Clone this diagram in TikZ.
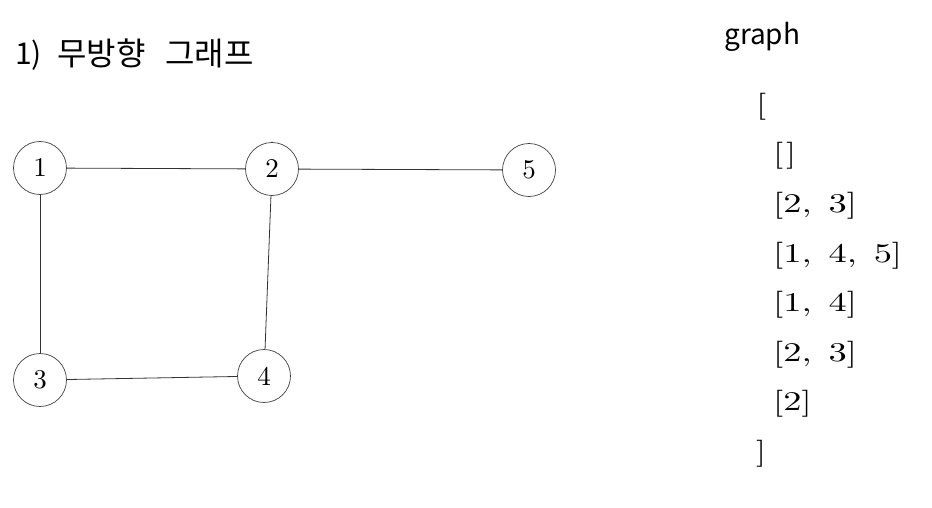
\documentclass[tikz,border=0pt]{standalone}
\usepackage{fontspec}
\usepackage{graphicx}
\newfontfamily\kfont{Noto Sans CJK KR}
\newfontfamily\numfont{lmroman10-regular.otf}
\newcommand{\gap}{\hspace{12.5pt}}
\newcommand{\wide}[1]{\scalebox{1.35}[1]{#1}}
\tikzset{
  vert/.style={circle, draw=black!75, line width=0.7pt, minimum size=53pt, inner sep=0pt, font=\numfont\fontsize{27}{27}\selectfont},
  edge/.style={draw=black!80, line width=0.8pt},
  title/.style={anchor=base west, inner sep=0pt, font=\kfont\fontsize{32}{32}\selectfont},
  listrow/.style={anchor=base west, inner sep=0pt, font=\numfont\fontsize{27}{27}\selectfont}
}
\begin{document}
\begin{tikzpicture}[x=1pt, y=-1pt]
\useasboundingbox (0,0) rectangle (932,508);
% title
\node[title, font=\kfont\fontsize{30}{30}\selectfont] (t1) at (15,65) {1)};
\node[title] (t2) at (57,65.5) {무방향};
\node[title] (t3) at (165,65.5) {그래프};
% vertices
\node[vert] (n1) at (40,168) {1};
\node[vert] (n2) at (272,169) {2};
\node[vert] (n5) at (529,170) {5};
\node[vert] (n3) at (40,380) {3};
\node[vert] (n4) at (264,376) {4};
% edges
\draw[edge] (n1) -- (n2);
\draw[edge] (n2) -- (n5);
\draw[edge] (n1) -- (n3);
\draw[edge] (n2) -- (n4);
\draw[edge] (n3) -- (n4);
% adjacency list
\node[title, font=\kfont\fontsize{28}{28}\selectfont] (g) at (724,45) {graph};
\node[listrow] (r0) at (756,113.5) {\wide{[}};
\node[listrow] (r1) at (773,163) {\wide{[\hspace{2pt}]}};
\node[listrow] (r2) at (773,212.5) {\wide{[2,\gap3]}};
\node[listrow] (r3) at (773,262) {\wide{[1,\gap4,\gap5]}};
\node[listrow] (r4) at (773,311.5) {\wide{[1,\gap4]}};
\node[listrow] (r5) at (773,361) {\wide{[2,\gap3]}};
\node[listrow] (r6) at (773,410.5) {\wide{[2]}};
\node[listrow] (r7) at (756,460) {\wide{]}};
\end{tikzpicture}
\end{document}
